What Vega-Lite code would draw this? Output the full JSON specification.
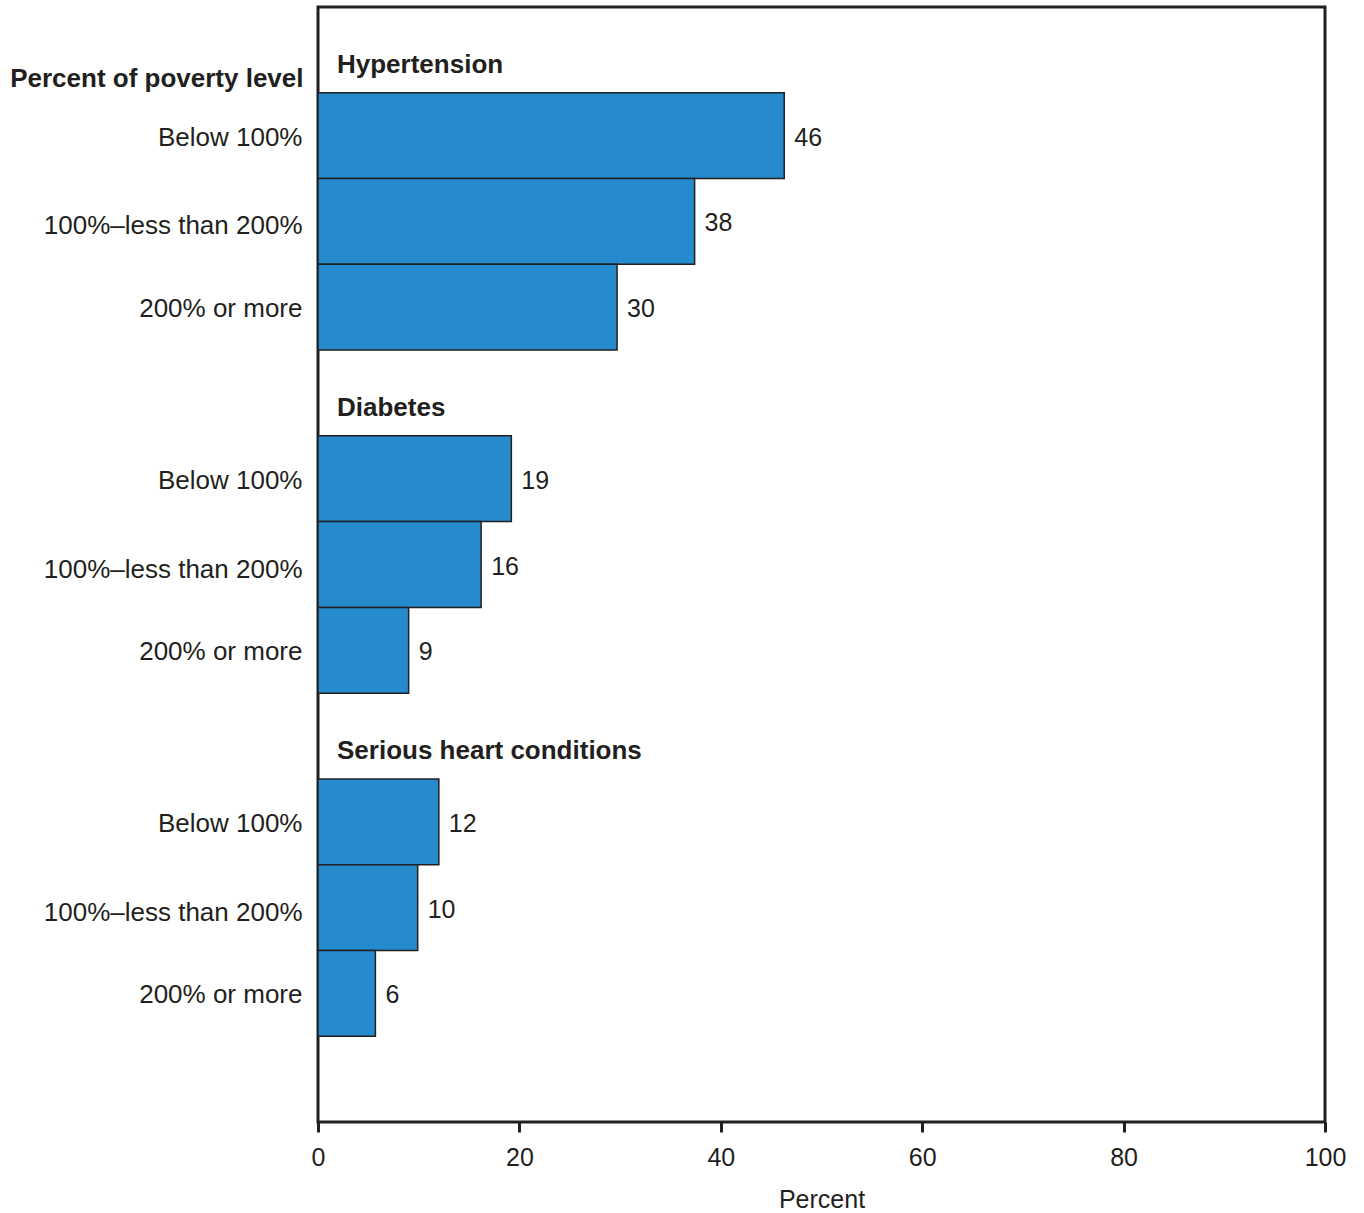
{
  "$schema": "https://vega.github.io/schema/vega-lite/v6.json",
  "autosize": "none",
  "width": 1007,
  "height": 1115,
  "padding": {"left": 318, "top": 7, "right": 39, "bottom": 91},
  "background": "#ffffff",
  "config": {
    "view": {"stroke": "#231f20", "strokeWidth": 3},
    "font": "Liberation Sans",
    "text": {"font": "Liberation Sans", "fontSize": 25, "fill": "#231f20"}
  },
  "datasets": {
    "bars": [
      {"condition": "Hypertension", "level": "Below 100%", "pct": 46.3, "label": "46"},
      {"condition": "Hypertension", "level": "100%–less than 200%", "pct": 37.4, "label": "38"},
      {"condition": "Hypertension", "level": "200% or more", "pct": 29.7, "label": "30"},
      {"condition": "Diabetes", "level": "Below 100%", "pct": 19.2, "label": "19"},
      {"condition": "Diabetes", "level": "100%–less than 200%", "pct": 16.2, "label": "16"},
      {"condition": "Diabetes", "level": "200% or more", "pct": 9.0, "label": "9"},
      {"condition": "Serious heart conditions", "level": "Below 100%", "pct": 12.0, "label": "12"},
      {"condition": "Serious heart conditions", "level": "100%–less than 200%", "pct": 9.9, "label": "10"},
      {"condition": "Serious heart conditions", "level": "200% or more", "pct": 5.7, "label": "6"}
    ],
    "headings": [
      {"condition": "Hypertension"},
      {"condition": "Diabetes"},
      {"condition": "Serious heart conditions"}
    ]
  },
  "layer": [
    {
      "data": {"name": "bars"},
      "transform": [{"calculate": "datum.condition + '|' + datum.level", "as": "key"}],
      "mark": {"type": "bar", "fill": "#268bcc", "stroke": "#231f20", "strokeWidth": 1.5},
      "encoding": {
        "x": {
          "field": "pct", "type": "quantitative",
          "scale": {"domain": [0, 100], "nice": false, "zero": true},
          "axis": {
            "values": [0, 20, 40, 60, 80, 100],
            "title": "Percent",
            "titleFont": "Liberation Sans",
            "titleFontSize": 25,
            "titleFontWeight": "normal",
            "titleColor": "#231f20",
            "titlePadding": 17,
            "labelFont": "Liberation Sans",
            "labelFontSize": 25,
            "labelColor": "#231f20",
            "labelFlush": false,
            "labelPadding": 13,
            "grid": false,
            "domain": false,
            "tickColor": "#231f20",
            "tickWidth": 3,
            "tickSize": 10
          }
        },
        "y": {
          "field": "key", "type": "nominal",
          "scale": {
            "domain": [
              "Hypertension",
              "Hypertension|Below 100%",
              "Hypertension|100%–less than 200%",
              "Hypertension|200% or more",
              "Diabetes",
              "Diabetes|Below 100%",
              "Diabetes|100%–less than 200%",
              "Diabetes|200% or more",
              "Serious heart conditions",
              "Serious heart conditions|Below 100%",
              "Serious heart conditions|100%–less than 200%",
              "Serious heart conditions|200% or more",
              "end"
            ],
            "paddingInner": 0,
            "paddingOuter": 0
          },
          "axis": {
            "labelExpr": "indexof(datum.value, '|') > 0 ? split(datum.value, '|')[1] : ''",
            "labelFont": "Liberation Sans",
            "labelFontSize": 26,
            "labelColor": "#231f20",
            "labelPadding": 16,
            "labelLimit": 0,
            "labelOffset": {"condition": {"test": "indexof(datum.value, '100%–less') > 0", "value": 5}, "value": 2},
            "ticks": false,
            "domain": false,
            "grid": false,
            "title": "Percent of poverty level",
            "titleFont": "Liberation Sans",
            "titleFontSize": 26,
            "titleFontWeight": "bold",
            "titleColor": "#231f20",
            "titleAngle": 0,
            "titleAlign": "right",
            "titleBaseline": "alphabetic",
            "titleX": -15,
            "titleY": 79
          }
        }
      }
    },
    {
      "data": {"name": "bars"},
      "transform": [{"calculate": "datum.condition + '|' + datum.level", "as": "key"}],
      "mark": {"type": "text", "align": "left", "baseline": "middle", "dx": 10, "dy": 2, "fontSize": 25},
      "encoding": {
        "x": {"field": "pct", "type": "quantitative"},
        "y": {"field": "key", "type": "nominal"},
        "text": {"field": "label"}
      }
    },
    {
      "data": {"name": "headings"},
      "mark": {"type": "text", "align": "left", "baseline": "alphabetic", "dx": 19, "dy": 23, "fontSize": 26, "fontWeight": "bold"},
      "encoding": {
        "x": {"datum": 0, "type": "quantitative"},
        "y": {"field": "condition", "type": "nominal"},
        "text": {"field": "condition"}
      }
    }
  ]
}
